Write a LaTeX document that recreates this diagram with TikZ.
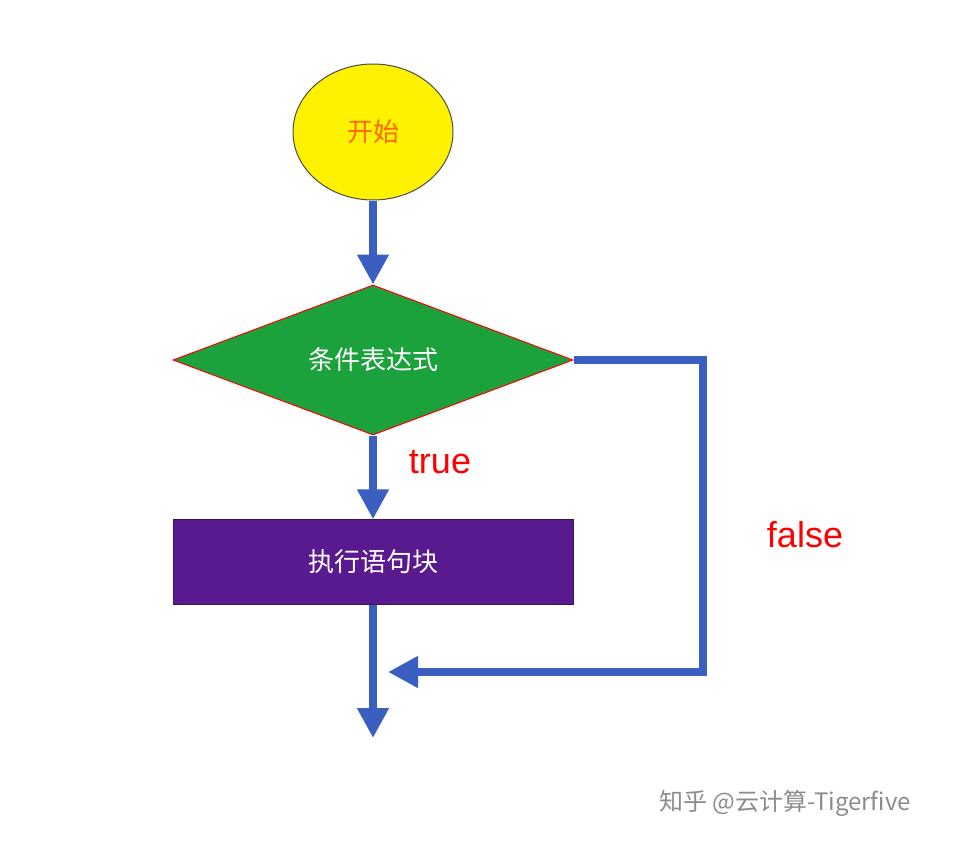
\documentclass[tikz,border=0pt]{standalone}
\usepackage{fontspec}
\newfontfamily\cjk{Noto Sans CJK SC}
\setmainfont{Liberation Sans}
\usetikzlibrary{shapes.geometric,arrows.meta}
\definecolor{lineblue}{HTML}{3A5FC0}
\definecolor{dgreen}{HTML}{1BA23D}
\definecolor{dpurple}{HTML}{5A1A8F}
\tikzset{
 conn/.style={draw=lineblue,line width=8pt,-{Triangle[length=30pt,width=30pt]}},
 plain/.style={draw=lineblue,line width=8pt},
 lbl/.style={text=red,font=\fontsize{36pt}{40pt}\selectfont},
}
\begin{document}
\begin{tikzpicture}[x=1pt,y=-1pt]
\useasboundingbox[fill=white] (0,0) rectangle (964,846);
\node[ellipse,draw=black!70,line width=1pt,fill=yellow,minimum width=160pt,minimum height=136pt,text=orange!80!red,font=\cjk\fontsize{26pt}{30pt}\selectfont] (start) at (373,132) {开始};
\node[diamond,draw=red,line width=1pt,fill=dgreen,minimum width=400pt,minimum height=150pt,aspect=2.67,inner sep=0pt,text=white,font=\cjk\fontsize{26pt}{30pt}\selectfont] (cond) at (373,360) {条件表达式};
\node[rectangle,fill=dpurple,draw=dpurple!70!black,minimum width=400pt,minimum height=85pt,text=white,font=\cjk\fontsize{26pt}{30pt}\selectfont] (blk) at (373,562) {执行语句块};
\coordinate (end) at (373,738);
\coordinate (r1) at (703,360);
\coordinate (r2) at (703,672);
\coordinate (join) at (388,672);
\draw[conn] (start.south) -- (cond.north);
\draw[conn] (cond.south) -- (blk.north);
\draw[conn] (blk.south) -- (end);
\draw[conn] (cond.east) -- (r1) -- (r2) -- (join);
\node[lbl] (t) at (440,462) {true};
\node[lbl] (f) at (805,535) {false};
\node[text=black!45,font=\cjk\fontsize{24pt}{28pt}\selectfont] (wm) at (785,803) {知乎 @云计算-Tigerfive};
\end{tikzpicture}
\end{document}
